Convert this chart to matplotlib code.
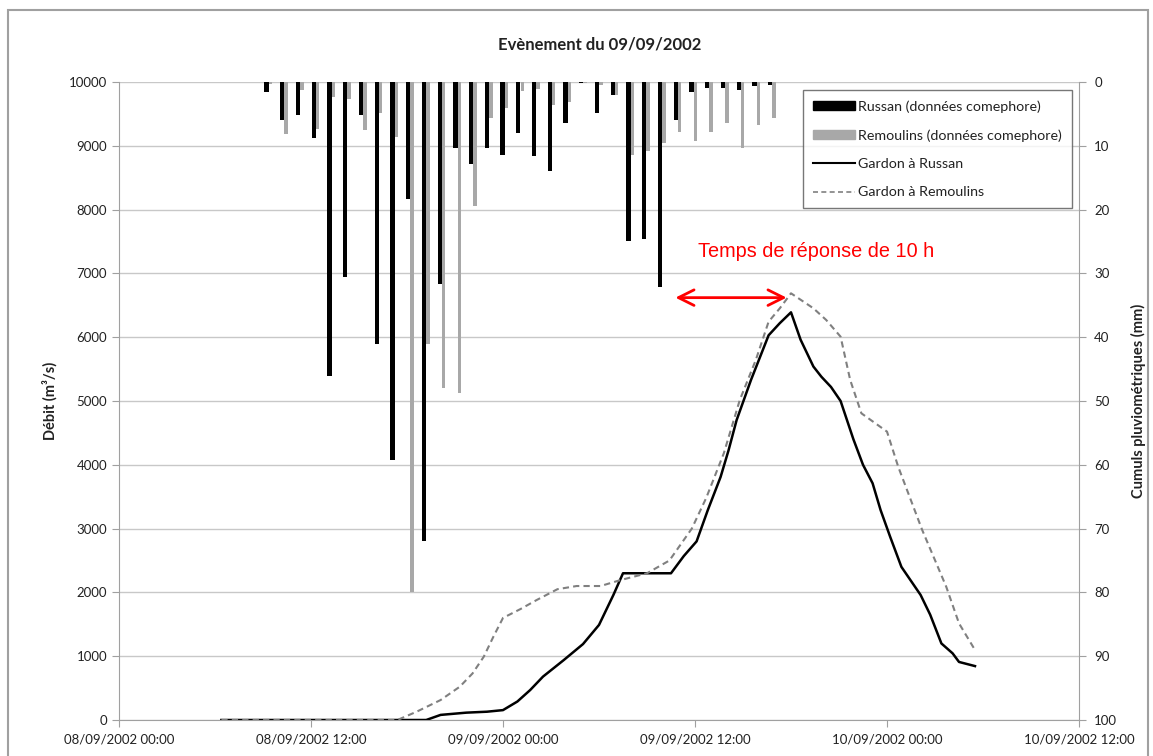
import matplotlib
matplotlib.use('Agg')
import matplotlib.pyplot as plt
from matplotlib.patches import Rectangle, Patch
from matplotlib.lines import Line2D
import numpy as np

plt.rcParams['font.family'] = ['Lato', 'DejaVu Sans']

# débits (m3/s), temps en heures depuis le 08/09/2002 00:00
hours_russan = [6.4, 19.2, 20.1, 21.7, 23.0, 24.0, 24.9, 25.7, 26.5, 27.8, 29.0, 30.0,
                30.9, 31.5, 34.5, 35.3, 36.1, 36.8, 37.6, 38.1, 38.6, 39.5, 40.6, 41.3,
                42.0, 42.6, 43.4, 43.9, 44.5, 45.1, 45.9, 46.5, 47.1, 47.6, 48.2, 48.9,
                50.1, 50.7, 51.4, 52.1, 52.5, 53.5]
q_russan = [0, 0, 80, 115, 130, 155, 290, 470, 680, 940, 1190, 1490,
            1960, 2300, 2300, 2570, 2800, 3290, 3810, 4230, 4700, 5330, 6030, 6220,
            6390, 5960, 5540, 5380, 5220, 5000, 4400, 4000, 3710, 3290, 2870, 2400,
            1960, 1650, 1200, 1045, 910, 845]

hours_remoulins = [6.4, 17.4, 18.6, 20.1, 21.3, 22.1, 22.8, 23.4, 24.0, 25.1, 26.1, 27.4,
                   28.6, 30.1, 31.3, 33.0, 34.4, 35.8, 36.7, 37.8, 38.8, 39.8, 40.6, 41.3,
                   42.0, 43.4, 44.2, 45.1, 45.7, 46.4, 48.0, 48.7, 50.2, 51.7, 52.5, 53.5]
q_remoulins = [0, 0, 130, 313, 522, 731, 993, 1306, 1600, 1740, 1880, 2050,
               2100, 2100, 2190, 2300, 2500, 3000, 3480, 4180, 5016, 5643, 6243, 6453,
               6688, 6453, 6270, 6008, 5329, 4807, 4520, 3970, 2978, 2090, 1515, 1097]

# pluies horaires comephore (mm), pas horaire à partir de 09:00 le 08/09
rain_start = 9
rain_russan = [1.6, 5.9, 5.2, 8.7, 46.1, 30.6, 5.1, 41.1, 59.2, 18.3, 71.9, 31.6,
               10.3, 12.8, 10.3, 11.4, 8.0, 11.6, 13.9, 6.5, 0.2, 4.9, 2.1, 24.9,
               24.6, 32.2, 6.0, 1.5, 0.9, 0.9, 1.3, 0.6, 0.5]
rain_remoulins = [0.3, 8.2, 1.3, 7.3, 2.3, 2.6, 7.5, 4.9, 8.6, 79.9, 41.0, 47.9,
                  48.8, 19.4, 5.6, 4.1, 1.4, 1.1, 3.6, 3.1, 0.2, 0.5, 2.0, 11.4,
                  10.8, 9.6, 7.8, 9.2, 7.8, 6.5, 10.3, 6.7, 5.7]
n_slots = 61

x_ticks = [0, 12, 24, 36, 48, 60]
x_labels = ['08/09/2002 00:00', '08/09/2002 12:00', '09/09/2002 00:00',
            '09/09/2002 12:00', '10/09/2002 00:00', '10/09/2002 12:00']

grid_col = '#c8c8c8'
axis_col = '#a0a0a0'
txt_col = '#222222'

fig = plt.figure(figsize=(11.53, 7.56), dpi=100)
fig.patches.append(Rectangle((8 / 1153, -0.01), 1140 / 1153, 1 - 10 / 756 + 0.01,
                             transform=fig.transFigure, fill=False,
                             edgecolor=axis_col, lw=1.5))

rect = [119 / 1153, 1 - 720 / 756, 960 / 1153, 638 / 756]
ax = fig.add_axes(rect)
ax.set_xlim(0, 60)
ax.set_ylim(0, 10000)
ax.set_yticks(range(0, 10001, 1000))
ax.set_xticks(x_ticks)
ax.set_xticklabels(x_labels)
ax.grid(axis='y', color=grid_col, lw=1)
ax.set_axisbelow(True)
for s in ['top', 'right']:
    ax.spines[s].set_visible(False)
for s in ['left', 'bottom']:
    ax.spines[s].set_color(axis_col)
ax.tick_params(colors=axis_col, labelcolor=txt_col, labelsize=9.5, length=5)
ax.tick_params(axis='x', pad=5)
ax.set_ylabel('Débit (m³/s)', fontsize=10.5, fontweight='bold', color=txt_col, labelpad=8)

ax.plot(hours_russan, q_russan, color='black', lw=1.8, zorder=3)
ax.plot(hours_remoulins, q_remoulins, color='#808080', lw=1.5, ls=(0, (3, 2)), zorder=3)

# temps de réponse entre pic de pluie et pic de crue
ax.annotate('', xy=(34.6, 6620), xytext=(41.9, 6620),
            arrowprops=dict(arrowstyle='<->', color='red', lw=2, mutation_scale=28))
ax.text(43.6, 7350, 'Temps de réponse de 10 h', color='red', fontsize=14.3,
        family=['Liberation Sans', 'DejaVu Sans'], ha='center', va='center')

# pluies sur un axe de catégories séparé, axe des y inversé à droite
axb = fig.add_axes(rect, facecolor='none')
idx = np.arange(len(rain_russan)) + rain_start
axb.bar(idx + 0.375, rain_russan, width=0.27, color='black')
axb.bar(idx + 0.625, rain_remoulins, width=0.22, color='#a8a8a8')
axb.set_xlim(0, n_slots)
axb.set_ylim(100, 0)
axb.set_yticks(range(0, 101, 10))
axb.set_xticks([])
axb.yaxis.tick_right()
axb.yaxis.set_label_position('right')
for s in ['top', 'left', 'bottom']:
    axb.spines[s].set_visible(False)
axb.spines['right'].set_color(axis_col)
axb.tick_params(colors=axis_col, labelcolor=txt_col, labelsize=9.5, length=5, pad=6)
axb.set_ylabel('Cumuls pluviométriques (mm)', fontsize=10.5, fontweight='bold',
               color=txt_col, labelpad=10)

handles = [Patch(color='black'), Patch(color='#a8a8a8'),
           Line2D([], [], color='black', lw=1.5),
           Line2D([], [], color='#808080', lw=1.2, ls=(0, (3, 2)))]
labels = ['Russan (données comephore)', 'Remoulins (données comephore)',
          'Gardon à Russan', 'Gardon à Remoulins']
leg = axb.legend(handles, labels, loc='upper left', bbox_to_anchor=(0.7125, 0.9875),
                 fontsize=10.3, frameon=True, fancybox=False, handlelength=2.9,
                 handleheight=0.5, labelspacing=1.15, borderpad=0.7, handletextpad=0.25,
                 borderaxespad=0)
leg.get_frame().set_edgecolor('#555555')
leg.get_frame().set_linewidth(1)
for t in leg.get_texts():
    t.set_color(txt_col)

fig.suptitle('Evènement du 09/09/2002', x=0.52, y=1 - 45 / 756, va='center',
             fontsize=12, fontweight='bold', color=txt_col)

fig.savefig('out.png', dpi=100)
